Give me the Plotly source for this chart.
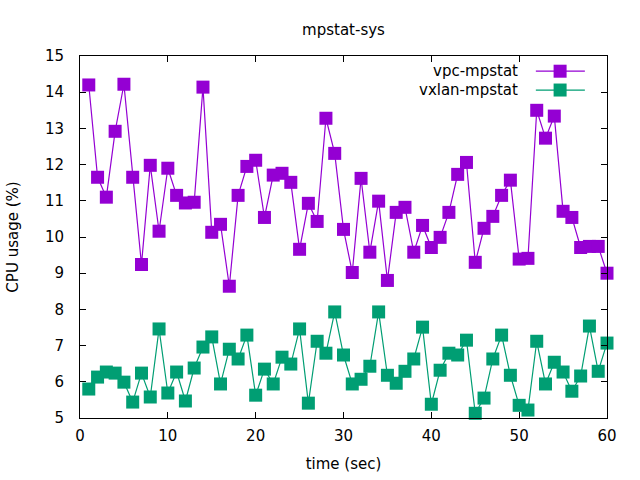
import plotly.graph_objects as go

# time axis (sec)
seconds = list(range(1, 61))

# CPU usage (%) per second
vpc_mpstat = [14.20, 11.65, 11.10, 12.92, 14.22, 11.65, 9.24, 11.98, 10.16, 11.90,
              11.15, 10.94, 10.96, 14.14, 10.13, 10.35, 8.64, 11.15, 11.95, 12.12,
              10.54, 11.71, 11.76, 11.51, 9.66, 10.93, 10.43, 13.28, 12.31, 10.21,
              9.02, 11.62, 9.58, 10.99, 8.80, 10.68, 10.82, 9.58, 10.32, 9.71,
              9.99, 10.68, 11.73, 12.06, 9.30, 10.24, 10.57, 11.15, 11.57, 9.39,
              9.41, 13.50, 12.73, 13.34, 10.71, 10.54, 9.71, 9.74, 9.74, 9.00]
vxlan_mpstat = [5.80, 6.13, 6.27, 6.24, 5.99, 5.44, 6.24, 5.58, 7.46, 5.69,
                6.27, 5.47, 6.38, 6.96, 7.24, 5.94, 6.90, 6.63, 7.29, 5.63,
                6.35, 5.94, 6.68, 6.49, 7.46, 5.41, 7.12, 6.79, 7.93, 6.74,
                5.94, 6.07, 6.43, 7.93, 6.18, 5.96, 6.29, 6.63, 7.51, 5.38,
                6.32, 6.79, 6.74, 7.15, 5.13, 5.55, 6.63, 7.29, 6.18, 5.35,
                5.22, 7.12, 5.94, 6.54, 6.27, 5.74, 6.16, 7.54, 6.29, 7.07]

series_names = ["vpc-mpstat", "vxlan-mpstat"]
colors = ["#9400d3", "#009e73"]

fnt = "DejaVu Sans"

fig = go.Figure()
for name, vals, col in zip(series_names, [vpc_mpstat, vxlan_mpstat], colors):
    fig.add_trace(go.Scatter(
        x=seconds, y=vals, name=name, mode="lines+markers",
        line=dict(color=col, width=1.2),
        marker=dict(symbol="square", size=13, color=col),
        showlegend=False, cliponaxis=False,
    ))

# gnuplot style key: text first, then sample line + marker
key_y = [0.958, 0.906]
for name, col, ky in zip(series_names, colors, key_y):
    fig.add_annotation(x=0.835, y=ky, xref="paper", yref="paper", text=name,
                       showarrow=False, xanchor="right", yanchor="middle",
                       font=dict(family=fnt, size=15, color="black"))
    fig.add_shape(type="line", xref="paper", yref="paper",
                  x0=0.865, x1=0.958, y0=ky, y1=ky, line=dict(color=col, width=1.2))
    fig.add_shape(type="rect", xref="paper", yref="paper",
                  x0=0.911 - 6.5 / 527, x1=0.911 + 6.5 / 527,
                  y0=ky - 6.5 / 362, y1=ky + 6.5 / 362,
                  fillcolor=col, line=dict(width=0))

axis_common = dict(
    showgrid=False, zeroline=False, showline=True, linecolor="black", linewidth=1,
    mirror="allticks", ticks="inside", ticklen=6, tickcolor="black",
    tickfont=dict(family=fnt, size=15, color="black"), automargin=False,
)

fig.update_xaxes(range=[0, 60], dtick=10, ticklabelstandoff=4,
                 title=dict(text="time (sec)", font=dict(family=fnt, size=15, color="black"),
                            standoff=14),
                 **axis_common)
fig.update_yaxes(range=[5, 15], dtick=1, ticklabelstandoff=12,
                 title=dict(text="CPU usage (%)", font=dict(family=fnt, size=15, color="black"),
                            standoff=22),
                 **axis_common)

fig.update_layout(
    width=640, height=480,
    margin=dict(l=80, r=33, t=56, b=62),
    paper_bgcolor="white", plot_bgcolor="white",
    title=dict(text="mpstat-sys", xref="paper", x=0.5, xanchor="center",
               y=1 - 30 / 480, yanchor="middle",
               font=dict(family=fnt, size=15, color="black")),
)

# page has a default 8px body margin, drop it so the chart sits at 0,0
fig.write_html("out.html", config={"displayModeBar": False},
               post_script="document.body.style.margin='0';")
